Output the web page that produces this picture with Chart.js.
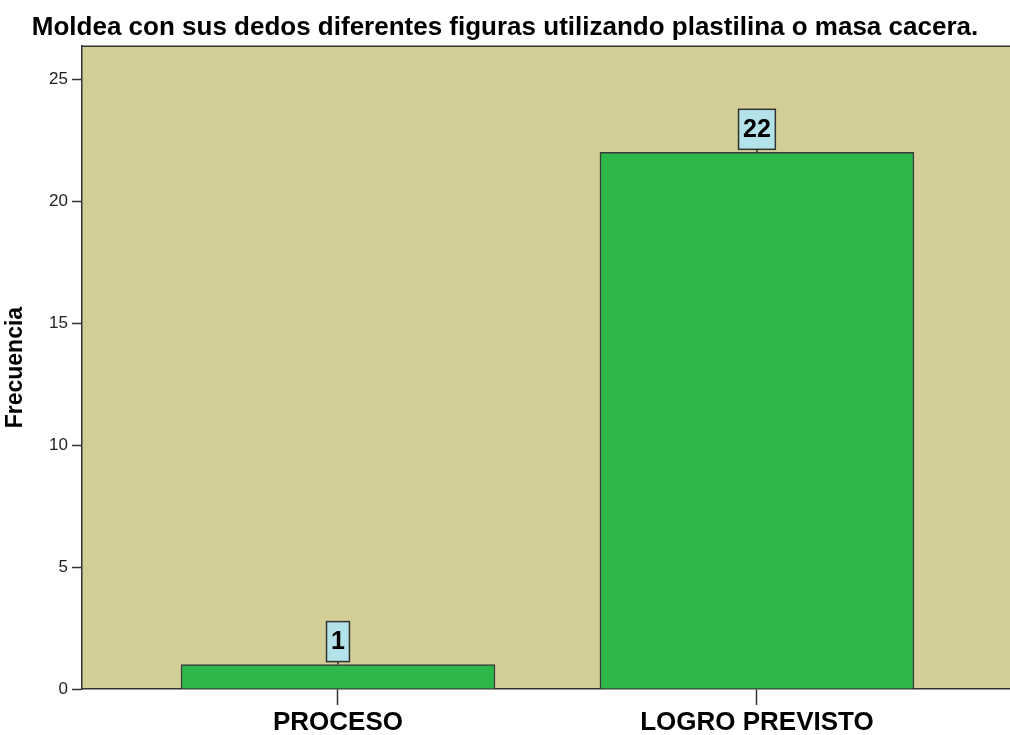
<!DOCTYPE html>
<html>
<head>
<meta charset="utf-8">
<script src="https://cdn.jsdelivr.net/npm/chart.js@4/dist/chart.umd.min.js"></script>
<style>
  body { margin: 0; background: #fff; }
  canvas { display: block; }
</style>
</head>
<body>
<canvas id="chart" width="1010" height="735"></canvas>
<script>
const TITLE = "Moldea con sus dedos diferentes figuras utilizando plastilina o masa cacera.";
const categories = ["PROCESO", "LOGRO PREVISTO"];
const counts = [1, 22];
const yTicks = [0, 5, 10, 15, 20, 25];

const FONT = "Arial, 'Liberation Sans', sans-serif";
const AXIS_COLOR = "#333333";

const plotBackground = {
    id: "plotBackground",
    beforeDraw(chart) {
        const { ctx, chartArea: a } = chart;
        ctx.save();
        ctx.fillStyle = "#d3ce98";
        ctx.fillRect(a.left, a.top, a.right - a.left, a.bottom - a.top);
        ctx.restore();
    },
    afterDraw(chart) {
        const { ctx, chartArea: a } = chart;
        ctx.save();
        ctx.strokeStyle = AXIS_COLOR;
        ctx.lineWidth = 1.5;
        ctx.beginPath();
        ctx.moveTo(a.left, a.top);
        ctx.lineTo(a.right, a.top);
        ctx.stroke();
        ctx.restore();
    },
};

// value boxes sitting on top of each bar
const valueBoxes = {
    id: "valueBoxes",
    afterDatasetsDraw(chart) {
        const { ctx } = chart;
        const meta = chart.getDatasetMeta(0);
        ctx.save();
        ctx.font = "bold 25px " + FONT;
        ctx.textAlign = "center";
        ctx.textBaseline = "middle";
        meta.data.forEach((bar, i) => {
            const txt = String(counts[i]);
            const w = ctx.measureText(txt).width + 9;
            const h = 40;
            const gap = 3;
            const x = bar.x - w / 2;
            const y = bar.y - gap - h;
            ctx.strokeStyle = AXIS_COLOR;
            ctx.lineWidth = 1.5;
            ctx.beginPath();
            ctx.moveTo(bar.x, bar.y);
            ctx.lineTo(bar.x, bar.y - gap);
            ctx.stroke();
            ctx.fillStyle = "#b3e3e8";
            ctx.fillRect(x, y, w, h);
            ctx.strokeRect(x, y, w, h);
            ctx.fillStyle = "#000";
            ctx.fillText(txt, bar.x, y + h / 2 + 1);
        });
        ctx.restore();
    },
};

new Chart(document.getElementById("chart"), {
    type: "bar",
    data: {
        datasets: [
            {
                data: counts.map((v, i) => ({ x: i, y: v })),
                backgroundColor: "#2eb84a",
                borderColor: "#3a3a3a",
                borderWidth: 1.5,
                barThickness: 314,
            },
        ],
    },
    plugins: [plotBackground, valueBoxes],
    options: {
        responsive: false,
        animation: false,
        devicePixelRatio: 1,
        layout: { padding: 0 },
        plugins: {
            legend: { display: false },
            tooltip: { enabled: false },
            title: {
                display: true,
                text: TITLE,
                color: "#000",
                font: { family: FONT, size: 26, weight: "bold" },
                padding: { top: 12, bottom: 3 },
            },
        },
        scales: {
            x: {
                type: "linear",
                offset: false,
                min: -0.611,
                max: 1.604,
                afterBuildTicks: (s) => {
                    s.ticks = categories.map((c, i) => ({ value: i }));
                },
                afterFit: (s) => {
                    s.height = 46;
                },
                grid: {
                    offset: false,
                    drawOnChartArea: false,
                    tickLength: 16,
                    tickColor: AXIS_COLOR,
                    tickWidth: 1.5,
                },
                border: { color: AXIS_COLOR, width: 1.5 },
                ticks: {
                    padding: 2,
                    color: "#000",
                    font: { family: FONT, size: 26, weight: "bold" },
                    maxRotation: 0,
                    callback: (v) => categories[v],
                },
            },
            y: {
                min: 0,
                max: 26.35,
                afterBuildTicks: (s) => {
                    s.ticks = yTicks.map((v) => ({ value: v }));
                },
                afterFit: (s) => {
                    s.width = 82;
                },
                grid: {
                    drawOnChartArea: false,
                    tickLength: 10,
                    tickColor: AXIS_COLOR,
                    tickWidth: 1.5,
                },
                border: { color: AXIS_COLOR, width: 1.5 },
                ticks: {
                    padding: 4,
                    color: "#222",
                    font: { family: FONT, size: 17 },
                },
                title: {
                    display: true,
                    text: "Frecuencia",
                    color: "#000",
                    font: { family: FONT, size: 23, weight: "bold" },
                    padding: { top: 2, bottom: 0 },
                },
            },
        },
    },
});
</script>
</body>
</html>
